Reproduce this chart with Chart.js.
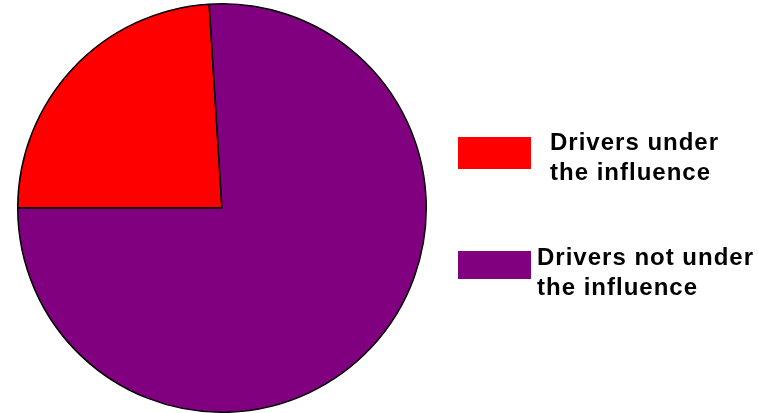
<!DOCTYPE html>
<html>
<head>
<meta charset="utf-8">
<title>Drivers under the influence</title>
<script src="https://cdn.jsdelivr.net/npm/chart.js@4.4.0/dist/chart.umd.min.js"></script>
<style>
	html, body { margin: 0; padding: 0; background: #fff; }
	#chart-canvas { display: block; }
</style>
</head>
<body>
<canvas id="chart-canvas" width="758" height="413"></canvas>
<script>
// share of drivers, in percent
const labels = [
	['Drivers under', 'the influence'],
	['Drivers not under', 'the influence']
];
const shares = [24, 76];
const colors = ['#ff0000', '#800080'];

// legend at the right: box + two lines of bold text per slice
const sideLegend = {
	id: 'sideLegend',
	afterDraw(chart, args, opts) {
		const { ctx } = chart;
		const ds = chart.data.datasets[0];
		ctx.save();
		ctx.font = 'bold 24px "Liberation Sans", Arial, sans-serif';
		ctx.letterSpacing = '1px';
		ctx.fillStyle = '#000';
		ctx.textBaseline = 'alphabetic';
		chart.data.labels.forEach((lines, i) => {
			const it = opts.items[i];
			ctx.fillStyle = ds.backgroundColor[i];
			ctx.fillRect(opts.boxX, it.boxY, opts.boxW, it.boxH);
			ctx.fillStyle = '#000';
			lines.forEach((line, j) => {
				ctx.fillText(line, it.textX, it.baseline + j * opts.lineHeight);
			});
		});
		ctx.restore();
	}
};

const ctx = document.querySelector('#chart-canvas').getContext('2d');
const chart = new Chart(ctx, {
	type: 'pie',
	data: {
		labels: labels,
		datasets: [{
			data: shares,
			backgroundColor: colors,
			borderColor: '#000',
			borderWidth: 1.5
		}]
	},
	options: {
		responsive: false,
		animation: false,
		rotation: 270,
		layout: {
			padding: { left: 17, right: 331, top: 3, bottom: 0 }
		},
		plugins: {
			legend: { display: false },
			tooltip: { enabled: false },
			sideLegend: {
				boxX: 458,
				boxW: 73,
				lineHeight: 30,
				items: [
					{ boxY: 137, boxH: 32, textX: 550, baseline: 150 },
					{ boxY: 251, boxH: 28, textX: 537, baseline: 265 }
				]
			}
		}
	},
	plugins: [sideLegend]
});
</script>
</body>
</html>
